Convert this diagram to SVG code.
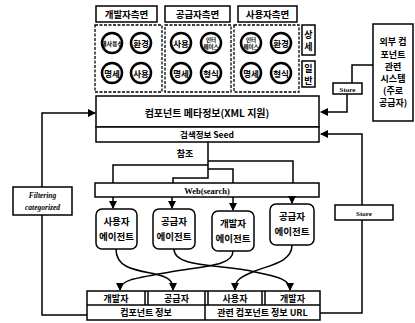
<svg xmlns="http://www.w3.org/2000/svg" width="415" height="323" viewBox="0 0 415 323">
<style>
.b{fill:#fff;stroke:#000;stroke-width:1.5}
.d{fill:none;stroke:#000;stroke-width:1.3;stroke-dasharray:3,1.5}
.c{fill:#fff;stroke:#000;stroke-width:2.5}
.k{font-family:"Noto Sans CJK KR","Noto Sans",sans-serif;font-weight:bold;fill:#000;text-anchor:middle}
.s{font-family:"Liberation Serif",serif;font-weight:bold;fill:#000;text-anchor:middle}
.l{fill:none;stroke:#000;stroke-width:1.5}
</style>
<defs>
<marker id="a" markerWidth="8" markerHeight="8" refX="7" refY="4" orient="auto" markerUnits="userSpaceOnUse">
<path d="M0,0 L8,4 L0,8 Z" fill="#000"/>
</marker>
</defs>

<g id="dev-view">
<rect class="b" x="96" y="6" width="61" height="16"/>
<text class="k" x="126.5" y="18" font-size="9.5">개발자측면</text>
<rect class="d" x="95" y="25" width="67" height="67"/>
<circle class="c" cx="112" cy="43" r="10"/><text class="k" x="112" y="46" font-size="6">재사용성</text>
<circle class="c" cx="141" cy="43" r="10"/><text class="k" x="141" y="46.5" font-size="8.5">환경</text>
<circle class="c" cx="112" cy="73" r="10"/><text class="k" x="112" y="76.5" font-size="8.5">명세</text>
<circle class="c" cx="141" cy="73" r="10"/><text class="k" x="141" y="76.5" font-size="8.5">사용</text>
</g>

<g id="sup-view">
<rect class="b" x="165" y="6" width="65" height="16"/>
<text class="k" x="197.5" y="18" font-size="9.5">공급자측면</text>
<rect class="d" x="165" y="25" width="66" height="67"/>
<circle class="c" cx="181" cy="43" r="10"/><text class="k" x="181" y="46.5" font-size="8.5">사용</text>
<circle class="c" cx="211" cy="43" r="10"/><text class="k" x="211" y="41.5" font-size="5.5">인터</text><text class="k" x="211" y="48.5" font-size="5.5">페이스</text>
<circle class="c" cx="181" cy="73" r="10"/><text class="k" x="181" y="76.5" font-size="8.5">명세</text>
<circle class="c" cx="211" cy="73" r="10"/><text class="k" x="211" y="76.5" font-size="8.5">형식</text>
</g>

<g id="user-view">
<rect class="b" x="238" y="6" width="59" height="16"/>
<text class="k" x="267.5" y="18" font-size="9.5">사용자측면</text>
<rect class="d" x="234" y="25" width="65" height="67"/>
<circle class="c" cx="251" cy="43" r="10"/><text class="k" x="251" y="41.5" font-size="5.5">인터</text><text class="k" x="251" y="48.5" font-size="5.5">페이스</text>
<circle class="c" cx="281" cy="43" r="10"/><text class="k" x="281" y="46.5" font-size="8.5">환경</text>
<circle class="c" cx="251" cy="73" r="10"/><text class="k" x="251" y="76.5" font-size="8.5">명세</text>
<circle class="c" cx="281" cy="73" r="10"/><text class="k" x="281" y="76.5" font-size="8.5">형식</text>
</g>

<g id="detail">
<rect class="b" x="302" y="25" width="13" height="30"/>
<text class="k" x="308.5" y="38" font-size="9">상</text>
<text class="k" x="308.5" y="50" font-size="9">세</text>
</g>
<g id="general">
<rect class="b" x="302" y="61" width="13" height="26"/>
<text class="k" x="308.5" y="72" font-size="9">일</text>
<text class="k" x="308.5" y="84" font-size="9">반</text>
</g>

<g id="external">
<rect class="b" x="373" y="24" width="40" height="97"/>
<text class="k" x="393" y="45" font-size="9">외부 컴</text>
<text class="k" x="393" y="58" font-size="9">포넌트</text>
<text class="k" x="393" y="70" font-size="9">관련</text>
<text class="k" x="393" y="82" font-size="9">시스템</text>
<text class="k" x="393" y="94" font-size="9">(주로</text>
<text class="k" x="393" y="106" font-size="9">공급자)</text>
</g>

<g id="store1">
<rect class="b" x="333" y="83" width="29" height="11"/>
<text class="s" x="347.5" y="91.5" font-size="7">Store</text>
</g>

<g id="metadata">
<rect class="b" x="96" y="96" width="223" height="31"/>
<text class="k" x="207" y="117" font-size="10">컴포넌트 메타정보(XML 지원)</text>
</g>
<g id="seed">
<rect class="b" x="96" y="127" width="223" height="15"/>
<text class="k" x="207" y="138" font-size="8.5">검색정보 Seed</text>
</g>

<g id="ref-label">
<text class="k" x="185" y="157" font-size="9">참조</text>
</g>

<g id="web">
<rect class="b" x="95" y="183" width="224" height="14"/>
<text class="s" x="207" y="193.5" font-size="8.5">Web(search)</text>
</g>

<g id="filtering">
<rect class="b" x="13" y="187" width="59" height="28"/>
<text class="s" x="42.5" y="198" font-size="7.5" font-style="italic">Filtering</text>
<text class="s" x="42.5" y="210" font-size="7.5" font-style="italic">categorized</text>
</g>

<g id="store2">
<rect class="b" x="335" y="205" width="58" height="15"/>
<text class="s" x="364" y="215.5" font-size="7">Store</text>
</g>

<g id="agent-user">
<rect class="b" x="96" y="209" width="41" height="40" rx="6"/>
<text class="k" x="116.5" y="225" font-size="9.5">사용자</text>
<text class="k" x="116.5" y="240" font-size="9.5">에이전트</text>
</g>
<g id="agent-sup1">
<rect class="b" x="153" y="209" width="42" height="40" rx="6"/>
<text class="k" x="174" y="225" font-size="9.5">공급자</text>
<text class="k" x="174" y="240" font-size="9.5">에이전트</text>
</g>
<g id="agent-dev">
<rect class="b" x="212" y="211" width="42" height="40" rx="6"/>
<text class="k" x="233" y="227" font-size="9.5">개발자</text>
<text class="k" x="233" y="242" font-size="9.5">에이전트</text>
</g>
<g id="agent-sup2">
<rect class="b" x="270" y="204" width="44" height="41" rx="6"/>
<text class="k" x="292" y="220" font-size="9.5">공급자</text>
<text class="k" x="292" y="235" font-size="9.5">에이전트</text>
</g>

<g id="table">
<rect class="b" x="87" y="291" width="233" height="29"/>
<line class="l" x1="87" y1="305" x2="320" y2="305"/>
<path class="l" d="M145,291V305M148,291V305M205,291V305M208,291V305M262,291V305M265,291V305M205,305V320"/>
<text class="k" x="116" y="302" font-size="9">개발자</text>
<text class="k" x="176.5" y="302" font-size="9">공급자</text>
<text class="k" x="235" y="302" font-size="9">사용자</text>
<text class="k" x="292.5" y="302" font-size="9">개발자</text>
<text class="k" x="146" y="316" font-size="9">컴포넌트 정보</text>
<text class="k" x="262.5" y="316" font-size="9">관련 컴포넌트 정보 URL</text>
</g>

<g id="connectors">
<path class="l" d="M373,65H352V83"/>
<path class="l" d="M347,94V112H321" marker-end="url(#a)"/>
<path class="l" d="M362,205V134H321" marker-end="url(#a)"/>
<path class="l" d="M362,220V313H320"/>
<path class="l" d="M42,187V113H95" marker-end="url(#a)"/>
<path class="l" d="M42,215V315H87"/>
<path class="l" d="M208,142V178H173V183"/>
<path class="l" d="M113,183V165H208"/>
<path class="l" d="M208,161H293V183"/>
<path class="l" d="M208,169H233V183"/>
<path class="l" d="M113,197V208" marker-end="url(#a)"/>
<path class="l" d="M172,197V208" marker-end="url(#a)"/>
<path class="l" d="M233,197V210" marker-end="url(#a)"/>
<path class="l" d="M292,197V203" marker-end="url(#a)"/>
<path class="l" d="M116,249C116,268 135,270 155,274C168,277 173,280 173,290" marker-end="url(#a)"/>
<path class="l" d="M174,249C174,268 220,264 255,272C280,277 290,280 290,290" marker-end="url(#a)"/>
<path class="l" d="M233,251C233,266 205,266 170,272C135,278 120,280 120,290" marker-end="url(#a)"/>
<path class="l" d="M292,245C292,262 270,265 255,271C240,277 235,280 235,290" marker-end="url(#a)"/>
</g>
</svg>
